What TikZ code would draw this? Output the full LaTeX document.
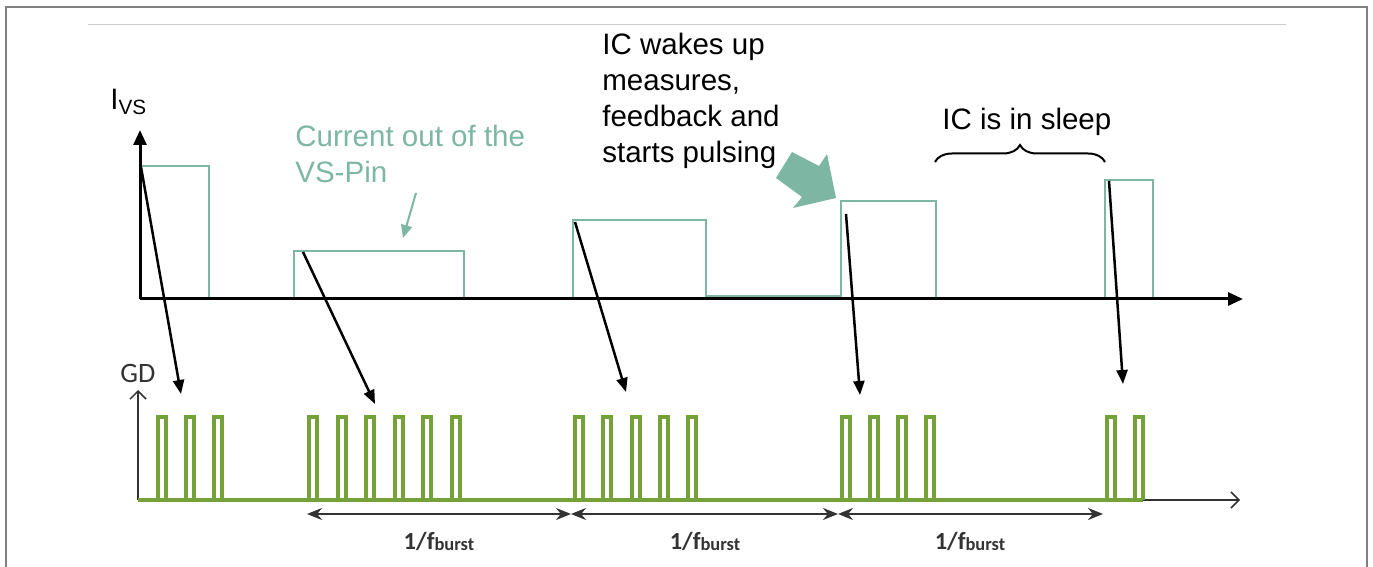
\documentclass[tikz,border=0pt]{standalone}
\usepackage{fontspec}
\setmainfont{Liberation Sans}
\newfontfamily\gdfont{Carlito}
\usetikzlibrary{arrows.meta,decorations.pathreplacing}
\definecolor{vsteal}{RGB}{125,182,163}
\definecolor{gdgreen}{RGB}{116,162,56}
\definecolor{framegray}{RGB}{128,128,128}
\definecolor{textgray}{RGB}{51,51,51}

\begin{document}
\begin{tikzpicture}[x=0.2mm,y=-0.2mm,
	vspulse/.style={vsteal, line width=0.55mm},
	gdpulse/.style={gdgreen, line width=0.7mm},
	burstarrow/.style={line width=0.5mm, -{Triangle[length=2.8mm,width=2.2mm]}},
	periodarrow/.style={textgray, line width=0.4mm, {Stealth[length=3mm,width=2.4mm]}-{Stealth[length=3mm,width=2.4mm]}},
	note/.style={font=\fontsize{16.8}{20.5}\selectfont, inner sep=0pt, align=left, anchor=base west},
	gdlabel/.style={font=\gdfont\bfseries\fontsize{14}{16}\selectfont, textgray, inner sep=0pt, anchor=base}]
	\useasboundingbox (0,0) rectangle (1373,567);
	\draw[framegray, line width=0.4mm] (6,567) -- (6,7) -- (1367,7) -- (1367,567);
	\draw[gray!40, line width=0.2mm] (88,25) -- (1286,25);

	% current out of the VS pin
	\draw[vspulse] (140,299) -- (140,166) -- (209,166) -- (209,299);
	\draw[vspulse] (294,299) -- (294,251) -- (464,251) -- (464,299);
	\draw[vspulse] (573,299) -- (573,220) -- (706,220) -- (706,299);
	\draw[vspulse] (706,296) -- (841,296);
	\draw[vspulse] (841,299) -- (841,201) -- (936,201) -- (936,299);
	\draw[vspulse] (1105,299) -- (1105,180) -- (1153,180) -- (1153,299);
	\draw[line width=0.6mm, -{Triangle[length=3mm,width=2.6mm]}] (140,299) -- (140,130);
	\draw[line width=0.6mm, -{Triangle[length=3mm,width=2.6mm]}] (140,299) -- (1243,299);
	\node[note] (ivs) at (110,110) {I\textsubscript{VS}};

	\node[note, vsteal] (vspin) at (295,183) {Current out of the\\VS-Pin};
	\draw[vsteal, line width=0.4mm, -{Triangle[length=2.6mm,width=2.2mm]}] (416,193) -- (403,238);
	\node[note] (wake) at (602,163) {IC wakes up\\measures,\\feedback and\\starts pulsing};
	\fill[vsteal] (792,152) -- (819,166) -- (827,154) -- (836,198) -- (793,208) -- (802,197) -- (776,178) -- cycle;
	\node[note] (sleep) at (942,130) {IC is in sleep};
	\draw[decorate, decoration={brace, amplitude=3.4mm}, line width=0.4mm] (935,162) -- (1105,162);

	% gate drive
	\draw[textgray, line width=0.3mm, -{Straight Barb[length=1.6mm,width=3.2mm]}] (138,500) -- (138,390);
	\draw[textgray, line width=0.3mm, -{Straight Barb[length=1.6mm,width=3.2mm]}] (138,500) -- (1240,500);
	\node[gdlabel, font=\gdfont\fontsize{16}{18}\selectfont] (gd) at (138,383) {GD};
	\draw[gdpulse] (138,500) -- (1143,500);

	\draw[gdpulse] (158,500) -- (158,417) -- (166,417) -- (166,500);
	\draw[gdpulse] (186,500) -- (186,417) -- (194,417) -- (194,500);
	\draw[gdpulse] (214,500) -- (214,417) -- (222,417) -- (222,500);

	\draw[gdpulse] (309,500) -- (309,417) -- (317,417) -- (317,500);
	\draw[gdpulse] (338,500) -- (338,417) -- (346,417) -- (346,500);
	\draw[gdpulse] (366,500) -- (366,417) -- (374,417) -- (374,500);
	\draw[gdpulse] (395,500) -- (395,417) -- (403,417) -- (403,500);
	\draw[gdpulse] (423,500) -- (423,417) -- (431,417) -- (431,500);
	\draw[gdpulse] (452,500) -- (452,417) -- (460,417) -- (460,500);

	\draw[gdpulse] (575,500) -- (575,417) -- (583,417) -- (583,500);
	\draw[gdpulse] (603,500) -- (603,417) -- (611,417) -- (611,500);
	\draw[gdpulse] (632,500) -- (632,417) -- (640,417) -- (640,500);
	\draw[gdpulse] (660,500) -- (660,417) -- (668,417) -- (668,500);
	\draw[gdpulse] (688,500) -- (688,417) -- (696,417) -- (696,500);

	\draw[gdpulse] (842,500) -- (842,417) -- (850,417) -- (850,500);
	\draw[gdpulse] (870,500) -- (870,417) -- (878,417) -- (878,500);
	\draw[gdpulse] (898,500) -- (898,417) -- (906,417) -- (906,500);
	\draw[gdpulse] (926,500) -- (926,417) -- (934,417) -- (934,500);

	\draw[gdpulse] (1107,500) -- (1107,417) -- (1115,417) -- (1115,500);
	\draw[gdpulse] (1135,500) -- (1135,417) -- (1143,417) -- (1143,500);

	% burst period
	\coordinate (t0) at (307,514);
	\coordinate (t1) at (571,514);
	\coordinate (t2) at (838,514);
	\coordinate (t3) at (1103,514);
	\draw[periodarrow] (t0) -- (t1);
	\draw[periodarrow] (t1) -- (t2);
	\draw[periodarrow] (t2) -- (t3);
	\node[gdlabel] (f1) at (439,549) {1/f\raisebox{-0.15ex}{\fontsize{10.5}{12}\selectfont burst}};
	\node[gdlabel] (f2) at (705,549) {1/f\raisebox{-0.15ex}{\fontsize{10.5}{12}\selectfont burst}};
	\node[gdlabel] (f3) at (970,549) {1/f\raisebox{-0.15ex}{\fontsize{10.5}{12}\selectfont burst}};

	% pulse to burst
	\coordinate (vs1) at (141,167);
	\coordinate (vs2) at (303,252);
	\coordinate (vs3) at (575,222);
	\coordinate (vs4) at (846,214);
	\coordinate (vs5) at (1109,181);
	\coordinate (gd1) at (181,394);
	\coordinate (gd2) at (375,404);
	\coordinate (gd3) at (626,392);
	\coordinate (gd4) at (860,395);
	\coordinate (gd5) at (1123,384);
	\draw[burstarrow] (vs1) -- (gd1);
	\draw[burstarrow] (vs2) -- (gd2);
	\draw[burstarrow] (vs3) -- (gd3);
	\draw[burstarrow] (vs4) -- (gd4);
	\draw[burstarrow] (vs5) -- (gd5);
\end{tikzpicture}
\end{document}
